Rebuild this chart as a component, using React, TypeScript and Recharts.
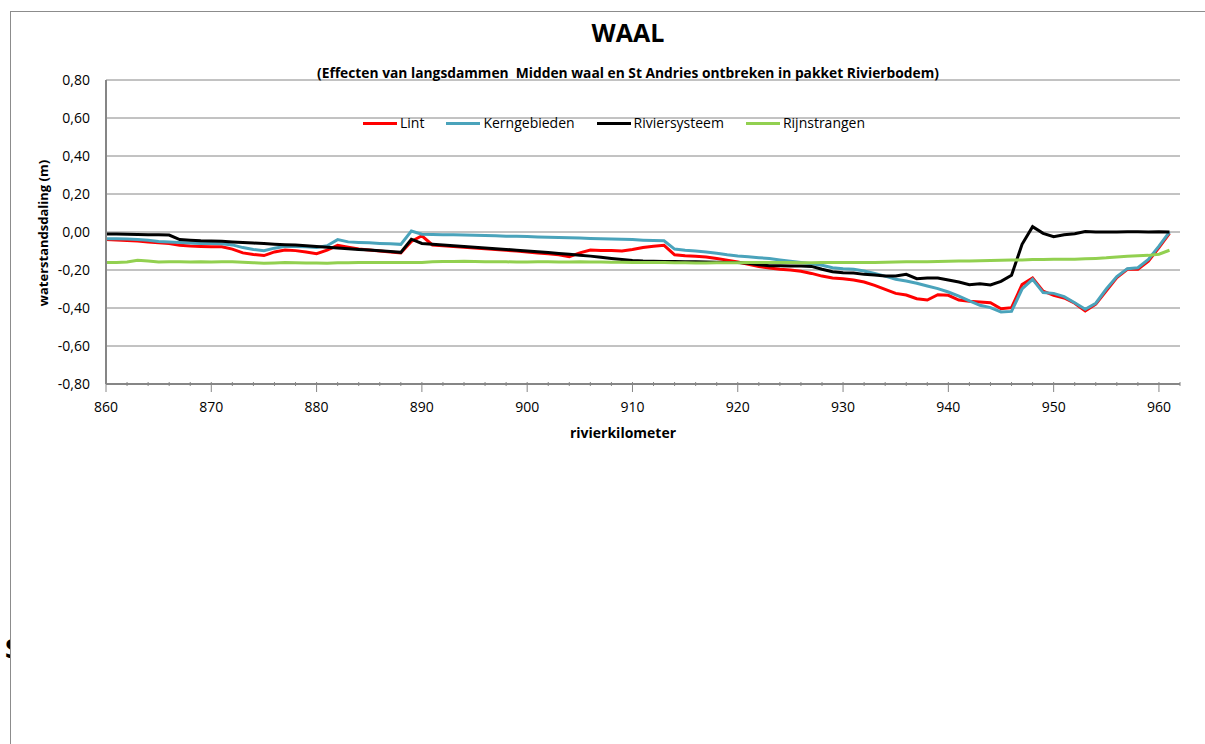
import { CartesianGrid, Line, LineChart, XAxis, YAxis } from 'recharts';

// rivierkilometer 860 .. 961
const km = [
  860, 861, 862, 863, 864, 865, 866, 867, 868, 869,
  870, 871, 872, 873, 874, 875, 876, 877, 878, 879,
  880, 881, 882, 883, 884, 885, 886, 887, 888, 889,
  890, 891, 892, 893, 894, 895, 896, 897, 898, 899,
  900, 901, 902, 903, 904, 905, 906, 907, 908, 909,
  910, 911, 912, 913, 914, 915, 916, 917, 918, 919,
  920, 921, 922, 923, 924, 925, 926, 927, 928, 929,
  930, 931, 932, 933, 934, 935, 936, 937, 938, 939,
  940, 941, 942, 943, 944, 945, 946, 947, 948, 949,
  950, 951, 952, 953, 954, 955, 956, 957, 958, 959,
  960, 961,
];

const lint = [
  -0.040, -0.042, -0.045, -0.048, -0.052, -0.056, -0.060, -0.070, -0.074, -0.076,
  -0.077, -0.078, -0.090, -0.110, -0.118, -0.124, -0.105, -0.095, -0.098, -0.105,
  -0.114, -0.095, -0.070, -0.080, -0.090, -0.095, -0.100, -0.105, -0.110, -0.050,
  -0.020, -0.068, -0.072, -0.076, -0.080, -0.084, -0.088, -0.092, -0.096, -0.100,
  -0.105, -0.110, -0.115, -0.120, -0.130, -0.110, -0.095, -0.097, -0.098, -0.100,
  -0.092, -0.082, -0.075, -0.070, -0.120, -0.125, -0.128, -0.132, -0.140, -0.148,
  -0.158, -0.170, -0.182, -0.190, -0.196, -0.200, -0.207, -0.218, -0.232, -0.242,
  -0.246, -0.253, -0.263, -0.281, -0.302, -0.323, -0.332, -0.351, -0.358, -0.330,
  -0.333, -0.358, -0.365, -0.368, -0.372, -0.404, -0.398, -0.277, -0.242, -0.311,
  -0.333, -0.347, -0.375, -0.416, -0.380, -0.310, -0.240, -0.196, -0.196, -0.153,
  -0.082, -0.007,
];

const kerngebieden = [
  -0.035, -0.035, -0.037, -0.040, -0.044, -0.050, -0.053, -0.055, -0.058, -0.060,
  -0.060, -0.062, -0.068, -0.082, -0.092, -0.098, -0.085, -0.075, -0.076, -0.078,
  -0.082, -0.072, -0.040, -0.052, -0.055, -0.057, -0.060, -0.062, -0.065, 0.005,
  -0.012, -0.013, -0.014, -0.015, -0.016, -0.017, -0.018, -0.020, -0.022, -0.023,
  -0.024, -0.026, -0.027, -0.029, -0.030, -0.032, -0.034, -0.035, -0.037, -0.038,
  -0.040, -0.043, -0.045, -0.046, -0.090, -0.096, -0.100, -0.105, -0.112, -0.120,
  -0.126, -0.130, -0.135, -0.140, -0.147, -0.154, -0.161, -0.167, -0.175, -0.188,
  -0.193, -0.196, -0.205, -0.218, -0.232, -0.249, -0.258, -0.270, -0.284, -0.298,
  -0.316, -0.337, -0.363, -0.386, -0.398, -0.421, -0.418, -0.300, -0.249, -0.319,
  -0.323, -0.340, -0.372, -0.407, -0.375, -0.300, -0.235, -0.193, -0.188, -0.144,
  -0.074, 0.000,
];

const riviersysteem = [
  -0.010, -0.011, -0.012, -0.013, -0.014, -0.015, -0.016, -0.040, -0.043, -0.046,
  -0.047, -0.049, -0.052, -0.055, -0.058, -0.061, -0.064, -0.067, -0.069, -0.073,
  -0.076, -0.080, -0.084, -0.088, -0.092, -0.095, -0.099, -0.103, -0.107, -0.038,
  -0.060, -0.064, -0.068, -0.072, -0.076, -0.080, -0.084, -0.088, -0.092, -0.096,
  -0.100, -0.104, -0.108, -0.113, -0.117, -0.122, -0.127, -0.133, -0.139, -0.145,
  -0.150, -0.153, -0.154, -0.155, -0.155, -0.156, -0.157, -0.158, -0.159, -0.160,
  -0.161, -0.165, -0.172, -0.177, -0.178, -0.179, -0.179, -0.181, -0.196, -0.209,
  -0.214, -0.216, -0.223, -0.226, -0.232, -0.232, -0.223, -0.246, -0.242, -0.242,
  -0.253, -0.263, -0.277, -0.272, -0.279, -0.260, -0.228, -0.065, 0.028, -0.007,
  -0.025, -0.014, -0.009, 0.002, 0.000, 0.000, 0.000, 0.001, 0.001, 0.000,
  0.001, 0.000,
];

const rijnstrangen = [
  -0.160, -0.160, -0.158, -0.149, -0.153, -0.158, -0.157, -0.157, -0.158, -0.157,
  -0.158, -0.157, -0.157, -0.159, -0.162, -0.164, -0.163, -0.161, -0.162, -0.163,
  -0.163, -0.165, -0.162, -0.162, -0.161, -0.160, -0.160, -0.160, -0.160, -0.161,
  -0.160, -0.157, -0.155, -0.155, -0.154, -0.155, -0.156, -0.157, -0.157, -0.158,
  -0.158, -0.157, -0.157, -0.158, -0.158, -0.157, -0.158, -0.158, -0.159, -0.159,
  -0.160, -0.160, -0.161, -0.161, -0.162, -0.162, -0.163, -0.163, -0.162, -0.162,
  -0.162, -0.161, -0.161, -0.161, -0.161, -0.161, -0.162, -0.162, -0.161, -0.161,
  -0.161, -0.161, -0.160, -0.160, -0.159, -0.158, -0.157, -0.156, -0.156, -0.155,
  -0.154, -0.153, -0.152, -0.151, -0.150, -0.149, -0.148, -0.147, -0.145, -0.145,
  -0.144, -0.144, -0.143, -0.141, -0.139, -0.136, -0.131, -0.127, -0.125, -0.123,
  -0.117, -0.096,
];

const xTicks = [
  860, 862, 864, 866, 868, 870, 872, 874, 876, 878, 880, 882, 884, 886, 888,
  890, 892, 894, 896, 898, 900, 902, 904, 906, 908, 910, 912, 914, 916, 918,
  920, 922, 924, 926, 928, 930, 932, 934, 936, 938, 940, 942, 944, 946, 948,
  950, 952, 954, 956, 958, 960, 962,
];
const yTicks = [-0.8, -0.6, -0.4, -0.2, 0, 0.2, 0.4, 0.6, 0.8];

const series = [
  { key: 'lint', name: 'Lint', color: '#ff0000', values: lint },
  { key: 'kern', name: 'Kerngebieden', color: '#4aa3bb', values: kerngebieden },
  { key: 'rivier', name: 'Riviersysteem', color: '#000000', values: riviersysteem },
  { key: 'rijn', name: 'Rijnstrangen', color: '#92d050', values: rijnstrangen },
];

const rows = km.map((k, i) => {
  const row: Record<string, number> = { km: k };
  series.forEach((s) => (row[s.key] = s.values[i]));
  return row;
});

const FONT = '"Open Sans", "DejaVu Sans", sans-serif';
const AXIS = '#868686';

const fmt = (v: number) => v.toFixed(2).replace('.', ',');

function XTick(props: any) {
  const { x, y, payload } = props;
  const major = payload.value % 10 === 0;
  return (
    <g>
      <line x1={x} x2={x} y1={y - 4} y2={major ? y + 6 : y} stroke={AXIS} strokeWidth={1} />
      {major && (
        <text x={x} y={y + 26} textAnchor="middle" fontSize={14} fill="#000" fontFamily={FONT}>
          {payload.value}
        </text>
      )}
    </g>
  );
}

export default function App() {
  return (
    <div
      style={{
        position: 'absolute',
        left: 0,
        top: 0,
        width: 1205,
        height: 744,
        background: '#fff',
        overflow: 'hidden',
        fontFamily: FONT,
      }}
    >
      <div style={{ position: 'absolute', left: 5, top: 635, fontSize: 26, fontWeight: 700, lineHeight: 1 }}>S</div>
      <div
        style={{
          position: 'absolute',
          left: 10,
          top: 11,
          width: 1205,
          height: 744,
          borderTop: '1px solid #8c8c8c',
          borderLeft: '1px solid #8c8c8c',
          background: '#fff',
        }}
      />
      <div style={{ position: 'absolute', left: 0, top: 0 }}>
        <LineChart width={1205} height={744} data={rows} margin={{ top: 80, right: 25, bottom: 300, left: 0 }}>
          <CartesianGrid vertical={false} stroke={AXIS} strokeWidth={1} />
          <XAxis
            dataKey="km"
            type="number"
            domain={[860, 962]}
            ticks={xTicks}
            interval={0}
            height={60}
            tickLine={false}
            tickSize={0}
            tick={<XTick />}
            axisLine={{ stroke: AXIS, strokeWidth: 2 }}
          />
          <YAxis
            domain={[-0.8, 0.8]}
            ticks={yTicks}
            interval={0}
            width={106}
            tickFormatter={fmt}
            tickLine={false}
            tickSize={0}
            tickMargin={16}
            tick={{ fontSize: 14, fill: '#000', fontFamily: FONT }}
            axisLine={{ stroke: AXIS, strokeWidth: 2 }}
          />
          {series.map((s) => (
            <Line
              key={s.key}
              type="linear"
              dataKey={s.key}
              name={s.name}
              stroke={s.color}
              strokeWidth={3}
              dot={false}
              isAnimationActive={false}
            />
          ))}
        </LineChart>
      </div>
      <svg
        width={1205}
        height={744}
        style={{ position: 'absolute', left: 0, top: 0, pointerEvents: 'none' }}
        fontFamily={FONT}
      >
        <text x={628} y={42} textAnchor="middle" fontSize={25} fontWeight={700}>
          WAAL
        </text>
        <text x={628} y={78} textAnchor="middle" fontSize={13.8} fontWeight={700} style={{ whiteSpace: 'pre' }}>
          (Effecten van langsdammen  Midden waal en St Andries ontbreken in pakket Rivierbodem)
        </text>
        <text
          x={48}
          y={233}
          textAnchor="middle"
          fontSize={13}
          fontWeight={700}
          transform="rotate(-90 48 233)"
        >
          waterstandsdaling (m)
        </text>
        <text x={623} y={438} textAnchor="middle" fontSize={14} fontWeight={700}>
          rivierkilometer
        </text>
      </svg>
      <div
        style={{
          position: 'absolute',
          left: 363,
          top: 113,
          display: 'flex',
          alignItems: 'center',
          fontSize: 14,
          lineHeight: '20px',
        }}
      >
        {series.map((s) => (
          <div key={s.key} style={{ display: 'flex', alignItems: 'center', marginRight: 22 }}>
            <span style={{ display: 'inline-block', width: 34, height: 3, background: s.color, marginRight: 3 }} />
            <span>{s.name}</span>
          </div>
        ))}
      </div>
    </div>
  );
}
